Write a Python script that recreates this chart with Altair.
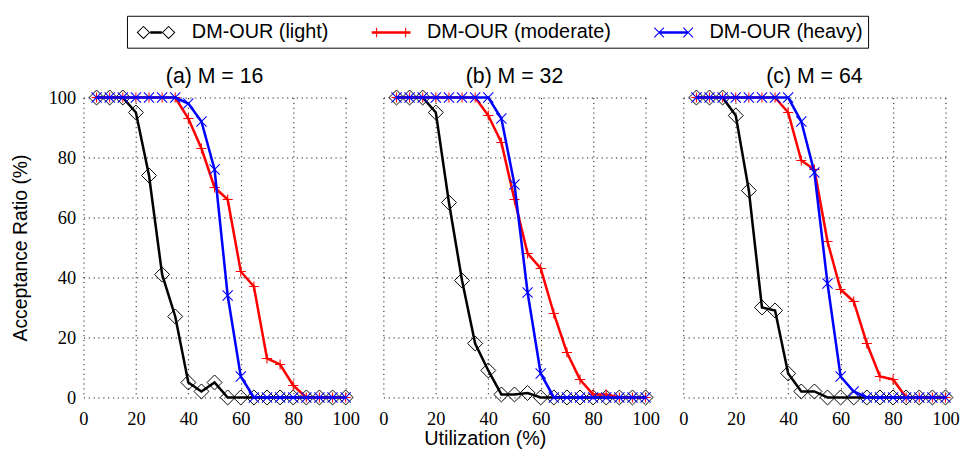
import altair as alt
import pandas as pd

# ---------------- data ----------------
util = [5, 10, 15, 20, 25, 30, 35, 40, 45, 50, 55, 60, 65, 70, 75, 80, 85, 90, 95, 100]
panels = ["(a) M = 16", "(b) M = 32", "(c) M = 64"]
series = ["DM-OUR (light)", "DM-OUR (moderate)", "DM-OUR (heavy)"]

m16_light = [100, 100, 100, 95, 74, 41, 27, 5, 2, 5, 0, 0, 0, 0, 0, 0, 0, 0, 0, 0]
m16_moderate = [100, 100, 100, 100, 100, 100, 100, 93, 83, 70, 66, 42, 37, 13, 11, 4, 0, 0, 0, 0]
m16_heavy = [100, 100, 100, 100, 100, 100, 100, 98, 92, 76, 34, 7, 0, 0, 0, 0, 0, 0, 0, 0]

m32_light = [100, 100, 100, 95, 65, 39, 18, 9, 1, 1, 1.5, 0, 0, 0, 0, 0, 0, 0, 0, 0]
m32_moderate = [100, 100, 100, 100, 100, 100, 100, 94, 85, 66, 48, 43, 28, 15, 6, 1, 1, 0, 0, 0]
m32_heavy = [100, 100, 100, 100, 100, 100, 100, 100, 93, 71, 35, 8, 0, 0, 0, 0, 0, 0, 0, 0]

m64_light = [100, 100, 100, 94, 69, 30, 29, 8, 2, 2, 0, 0, 0, 0, 0, 0, 0, 0, 0, 0]
m64_moderate = [100, 100, 100, 100, 100, 100, 100, 95, 79, 76, 52, 36, 32, 18, 7, 6, 0, 0, 0, 0]
m64_heavy = [100, 100, 100, 100, 100, 100, 100, 100, 92, 75, 38, 7, 2, 0, 0, 0, 0, 0, 0, 0]

table = {
    panels[0]: [m16_light, m16_moderate, m16_heavy],
    panels[1]: [m32_light, m32_moderate, m32_heavy],
    panels[2]: [m64_light, m64_moderate, m64_heavy],
}
rows = []
for p in panels:
    for s, vals in zip(series, table[p]):
        for u, v in zip(util, vals):
            rows.append({"panel": p, "series": s, "util": u, "ratio": v})
df = pd.DataFrame(rows)

colors = ["black", "#ff0000", "#0000ff"]

# ---------------- legend symbol paths (unit coords, r = 12px) ----------------
def bar(x1, y1, x2, y2, h):
    dx, dy = x2 - x1, y2 - y1
    ln = (dx * dx + dy * dy) ** 0.5
    nx, ny = -dy / ln * h, dx / ln * h
    pts = [(x1 + nx, y1 + ny), (x2 + nx, y2 + ny), (x2 - nx, y2 - ny), (x1 - nx, y1 - ny)]
    return "M" + "L".join(f"{a:.3f},{b:.3f}" for a, b in pts) + "Z"

def ring(cx, a, t):
    o = [(cx - a, 0), (cx, a), (cx + a, 0), (cx, -a)]
    b = a - t
    i = [(cx - b, 0), (cx, -b), (cx + b, 0), (cx, b)]
    f = lambda pts: "M" + "L".join(f"{x:.3f},{y:.3f}" for x, y in pts) + "Z"
    return f(o) + f(i)

LW = 0.105
path_light = bar(-0.5, 0, 0.5, 0, LW) + ring(-1.083, 0.583, 0.12) + ring(1.083, 0.583, 0.12)
path_mod = (bar(-1.667, 0, 1.667, 0, LW) + bar(-1.25, -0.417, -1.25, 0.417, 0.045)
            + bar(1.25, -0.417, 1.25, 0.417, 0.045))
path_heavy = (bar(-1.25, 0, 1.25, 0, LW)
              + bar(-1.667, -0.417, -0.833, 0.417, 0.045) + bar(-1.667, 0.417, -0.833, -0.417, 0.045)
              + bar(0.833, -0.417, 1.667, 0.417, 0.045) + bar(0.833, 0.417, 1.667, -0.417, 0.045))

legend = alt.Legend(
    title=None, orient="none", direction="horizontal", columns=3,
    legendX=45, legendY=-84.5,
    labelFont="Liberation Sans", labelFontSize=20.5, labelColor="black", labelLimit=400,
    strokeColor="black", padding=5, columnPadding=39,
    symbolSize=576, symbolOffset=13, labelOffset=25,
    symbolStrokeWidth=0, symbolOpacity=1,
)

xenc = alt.X("util:Q", scale=alt.Scale(domain=[0, 100], nice=False, padding=0),
             axis=alt.Axis(values=[0, 20, 40, 60, 80, 100], title=None, labelFlush=False))
yenc = alt.Y("ratio:Q", scale=alt.Scale(domain=[0, 100], nice=False, padding=0),
             axis=alt.Axis(values=[0, 20, 40, 60, 80, 100], title="Acceptance Ratio (%)"))

marker = {
    series[0]: dict(shape="diamond", size=240, strokeWidth=1),
    series[1]: dict(shape="M-1,0L1,0M0,-1L0,1", size=110, strokeWidth=1.1),
    series[2]: dict(shape="M-1,-1L1,1M-1,1L1,-1", size=110, strokeWidth=1.1),
}

layers = []
for s, c in zip(series, colors):
    line = alt.Chart().mark_line(strokeWidth=2.6, color=c).encode(
        x=xenc, y=yenc,
    ).transform_filter(alt.datum.series == s)
    pts = alt.Chart().mark_point(filled=False, color=c, opacity=1, **marker[s]).encode(
        x=xenc, y=yenc,
    ).transform_filter(alt.datum.series == s)
    layers += [line, pts]

# legend-only layer (no data rows survive the filter)
legend_layer = alt.Chart().mark_point(filled=True, opacity=1, size=576, strokeWidth=0).encode(
    x=xenc, y=yenc,
    color=alt.Color("series:N", scale=alt.Scale(domain=series, range=colors), legend=legend),
    shape=alt.Shape("series:N", scale=alt.Scale(domain=series,
                                                range=[path_light, path_mod, path_heavy]),
                    legend=legend),
).transform_filter(alt.datum.util < 0)
layers.append(legend_layer)

chart = alt.layer(*layers, data=df).properties(width=271, height=310).facet(
    column=alt.Column("panel:N", sort=panels, title=None,
                      header=alt.Header(labelFont="Liberation Sans", labelFontSize=22,
                                        labelColor="black", labelPadding=0)),
    spacing=29,
).properties(
    title=alt.TitleParams("Utilization (%)", orient="bottom", anchor="middle",
                          font="Liberation Sans", fontSize=20.5, fontWeight="normal",
                          color="black", offset=2),
    padding={"left": 3, "top": 0, "right": 0, "bottom": 0},
).configure_view(stroke=None).configure_axis(
    domain=False,
    grid=True, gridColor="#111", gridDash=[1.2, 3.8], gridWidth=1, gridOpacity=1,
    ticks=False,
    labelFont="Liberation Serif", labelFontSize=19, labelColor="black",
    titleFont="Liberation Sans", titleFontSize=20, titleFontWeight="normal", titleColor="black",
).configure_axisY(labelPadding=8, titlePadding=18).configure_axisX(labelPadding=2.5)

chart.save("out.html", embed_options={"renderer": "svg", "actions": False})
